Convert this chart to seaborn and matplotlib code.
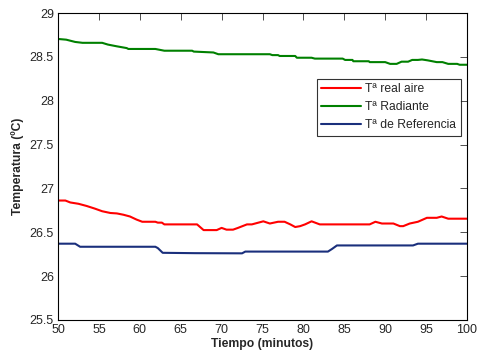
import numpy as np
import pandas as pd
import matplotlib
matplotlib.use("Agg")
import matplotlib.pyplot as plt
import seaborn as sns

# Temperatura real del aire
t_aire = [50, 50.9, 51.5, 52.5, 53.5, 54.5, 55.4, 56.4, 57.2, 58.0, 58.8, 59.6, 60.3,
          61.9, 62.2, 62.7, 63.0, 66.7, 67.0, 67.8, 69.4, 70.0, 70.6, 71.4, 72.0, 73.1,
          73.7, 74.1, 75.1, 75.9, 76.9, 77.7, 78.4, 79.0, 79.6, 80.2, 81.0, 82.0, 88.1,
          88.8, 89.6, 91.0, 91.8, 92.2, 93.0, 94.0, 95.1, 96.3, 96.9, 97.7, 100]
aire = [26.862, 26.862, 26.84, 26.825, 26.80, 26.77, 26.74, 26.72, 26.715, 26.70, 26.68,
        26.645, 26.62, 26.62, 26.61, 26.61, 26.59, 26.59, 26.59, 26.525, 26.525, 26.55,
        26.53, 26.53, 26.55, 26.59, 26.59, 26.60, 26.625, 26.60, 26.62, 26.62, 26.59,
        26.56, 26.57, 26.59, 26.625, 26.59, 26.59, 26.62, 26.60, 26.60, 26.57, 26.57,
        26.60, 26.62, 26.665, 26.665, 26.68, 26.655, 26.655]

# Temperatura radiante
t_rad = [50, 51.0, 52.1, 53.0, 55.4, 56.1, 57.2, 58.4, 58.6, 61.9, 63.0, 66.4, 66.6,
         69.0, 69.6, 75.9, 76.2, 76.9, 77.1, 79.0, 79.2, 81.0, 81.4, 84.8, 85.1, 86.0,
         86.1, 88.0, 88.1, 90.0, 90.6, 91.4, 92.0, 92.8, 93.3, 94.0, 94.5, 95.2, 96.3,
         97.0, 97.7, 98.8, 99.1, 100]
radiante = [28.704, 28.696, 28.67, 28.66, 28.66, 28.64, 28.62, 28.60, 28.59, 28.59,
            28.57, 28.57, 28.56, 28.55, 28.53, 28.53, 28.52, 28.52, 28.51, 28.51, 28.49,
            28.49, 28.48, 28.48, 28.465, 28.465, 28.45, 28.45, 28.44, 28.44, 28.42,
            28.42, 28.445, 28.445, 28.465, 28.465, 28.47, 28.46, 28.44, 28.44, 28.42,
            28.42, 28.41, 28.41]

# Temperatura de referencia
t_ref = [50, 52.1, 52.7, 61.9, 62.2, 62.8, 66.7, 72.5, 72.9, 83.0, 83.5, 84.1, 93.4,
         94.0, 100]
referencia = [26.37, 26.37, 26.335, 26.335, 26.32, 26.266, 26.262, 26.26, 26.28, 26.28,
              26.31, 26.35, 26.35, 26.37, 26.37]

labels = ["Tª real aire", "Tª Radiante", "Tª de Referencia"]
colors = ["#ff0000", "#008000", "#1a2f7c"]

df = pd.concat([
    pd.DataFrame({"t": t_aire, "T": aire, "serie": labels[0]}),
    pd.DataFrame({"t": t_rad, "T": radiante, "serie": labels[1]}),
    pd.DataFrame({"t": t_ref, "T": referencia, "serie": labels[2]}),
], ignore_index=True)

sns.set_style("white")
plt.rcParams["font.family"] = ["Liberation Sans", "DejaVu Sans"]

fig = plt.figure(figsize=(4.78, 3.58), dpi=100)
ax = fig.add_axes([58 / 478, 1 - 320 / 358, (467 - 58) / 478, (320 - 13) / 358])

sns.lineplot(data=df, x="t", y="T", hue="serie", hue_order=labels,
             palette=colors, linewidth=1.5, sort=False, estimator=None, ax=ax)

ax.set_xlim(50, 100)
ax.set_ylim(25.5, 29)
ax.set_xticks(np.arange(50, 101, 5))
ax.set_yticks(np.arange(25.5, 29.01, 0.5))
ax.set_yticklabels(["25.5", "26", "26.5", "27", "27.5", "28", "28.5", "29"])
ax.tick_params(direction="in", length=5, width=0.6, labelsize=9, top=True,
               right=True, color="#333333", pad=3)
for s in ax.spines.values():
    s.set_visible(True)
    s.set_color("black")
    s.set_linewidth(0.8)

ax.set_xlabel("Tiempo (minutos)", fontsize=8.7, fontweight="bold", labelpad=1)
ax.set_ylabel("Temperatura (ºC)", fontsize=8.7, fontweight="bold", labelpad=4)

leg = ax.legend(loc="upper left", bbox_to_anchor=((317 - 58) / 409, (320 - 79) / 307),
                frameon=True, fancybox=False, fontsize=8.7, borderpad=0.35,
                labelspacing=0.5, handlelength=3.3, handletextpad=0.35,
                borderaxespad=0)
leg.get_frame().set_edgecolor("black")
leg.get_frame().set_linewidth(0.8)
for line in leg.get_lines():
    line.set_linewidth(1.5)

fig.savefig("out.png", dpi=100)
